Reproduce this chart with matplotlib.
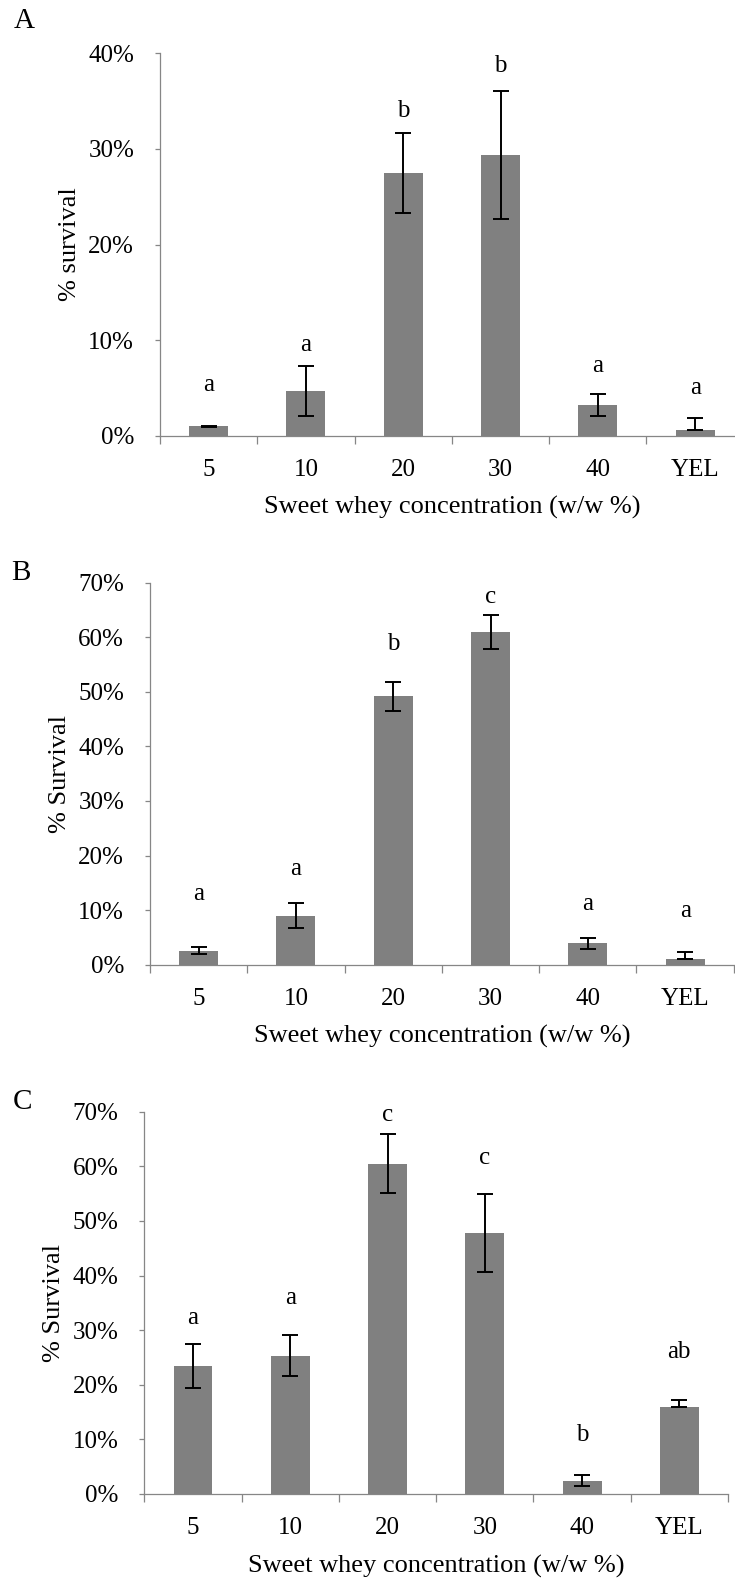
import matplotlib.pyplot as plt

plt.rcParams['font.family'] = ['Liberation Serif', 'DejaVu Serif']

# categories (sweet whey concentration)
cats = ['5', '10', '20', '30', '40', 'YEL']

# panel A (% survival)
valsA = [1.0, 4.7, 27.5, 29.4, 3.2, 0.6]
errLoA = [0.05, 2.6, 4.2, 6.7, 1.1, 0.0]
errHiA = [0.05, 2.6, 4.2, 6.7, 1.2, 1.3]
letA = ['a', 'a', 'b', 'b', 'a', 'a']
letPosA = [5.3, 9.5, 34.0, 38.7, 7.3, 5.0]

# panel B
valsB = [2.6, 9.0, 49.2, 60.9, 3.9, 1.0]
errLoB = [0.65, 2.25, 2.65, 3.1, 1.05, 0.0]
errHiB = [0.65, 2.25, 2.65, 3.1, 1.05, 1.4]
letB = ['a', 'a', 'b', 'c', 'a', 'a']
letPosB = [12.9, 17.5, 58.8, 67.3, 11.2, 9.9]

# panel C
valsC = [23.5, 25.3, 60.5, 47.8, 2.3, 16.0]
errLoC = [4.0, 3.75, 5.4, 7.1, 0.9, 0.0]
errHiC = [4.0, 3.75, 5.4, 7.2, 1.1, 1.3]
letC = ['a', 'a', 'c', 'c', 'b', 'ab']
letPosC = [32.2, 35.8, 69.4, 61.6, 10.8, 26.0]

W, H = 735, 1578
fig = plt.figure(figsize=(W / 100, H / 100), dpi=100)

# left px, top px, bottom px, width px, ymax, ylabel, panel letter + pos
panels = [
    (160.0, 53.3, 435.7, 583.8, 40, '% survival', 'A', (24, 21),
     valsA, errLoA, errHiA, letA, letPosA),
    (150.0, 582.7, 964.7, 583.8, 70, '% Survival', 'B', (21, 573),
     valsB, errLoB, errHiB, letB, letPosB),
    (144.4, 1111.7, 1494.0, 583.6, 70, '% Survival', 'C', (22, 1102),
     valsC, errLoC, errHiC, letC, letPosC),
]

axcol = '#868686'
for (lx, ty, by, wpx, ymax, ylab, plab, plpos,
     vals, elo, ehi, lets, lpos) in panels:
    ax = fig.add_axes([lx / W, (H - by) / H, wpx / W, (by - ty) / H])
    x = list(range(len(cats)))
    ax.bar(x, vals, width=0.4, color='#808080', zorder=2)
    ax.errorbar(x, vals, yerr=[elo, ehi], fmt='none', ecolor='black',
                elinewidth=1.4, capsize=6, capthick=1.4, zorder=3)
    for xi, t, yp in zip(x, lets, lpos):
        ax.text(xi, yp, t, ha='center', va='center', fontsize=18)

    ax.set_xlim(-0.5, len(cats) - 0.5)
    ax.set_ylim(0, ymax)
    yt = list(range(0, ymax + 1, 10))
    ax.set_yticks(yt)
    ax.set_yticklabels([f'{v}%' for v in yt], fontsize=18)
    ax.set_xticks(x)
    ax.set_xticklabels(cats, fontsize=18)
    ax.set_xticks([i - 0.5 for i in range(len(cats) + 1)], minor=True)
    ax.tick_params(axis='x', which='major', length=0, pad=16.5)
    ax.tick_params(axis='x', which='minor', length=5.5, width=0.9,
                   color=axcol, direction='out')
    ax.tick_params(axis='y', which='major', length=3.6, width=0.9,
                   color=axcol, direction='out', pad=15)

    for s in ['top', 'right']:
        ax.spines[s].set_visible(False)
    for s in ['left', 'bottom']:
        ax.spines[s].set_color(axcol)
        ax.spines[s].set_linewidth(0.9)

    ax.set_ylabel(ylab, fontsize=19)
    ax.yaxis.set_label_coords(-90 / wpx, 0.5)
    ax.yaxis.label.set_va('center')
    ax.set_xlabel('Sweet whey concentration (w/w %)', fontsize=19)
    ax.xaxis.set_label_coords(0.5, -72 / (by - ty))
    ax.xaxis.label.set_va('center')

    fig.text(plpos[0] / W, 1 - plpos[1] / H, plab, fontsize=21,
             ha='center', va='center')

fig.savefig('out.png', dpi=100)
